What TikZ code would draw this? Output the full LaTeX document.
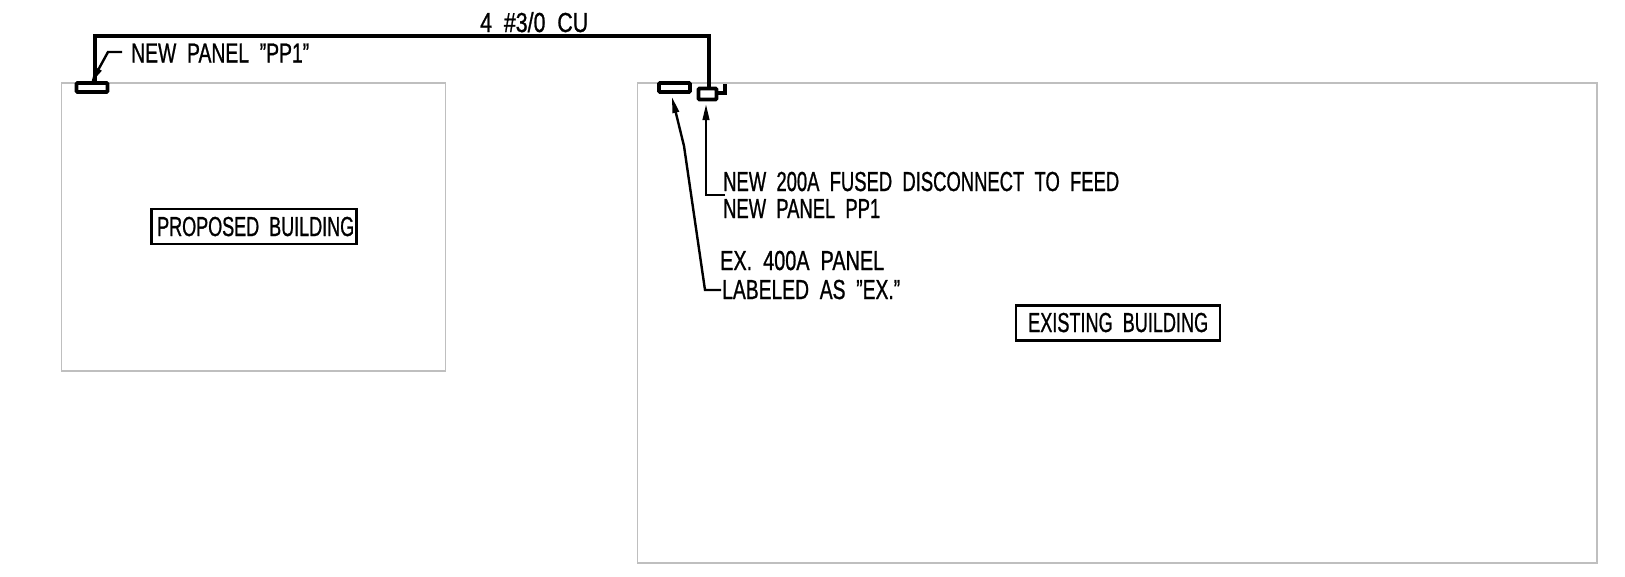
\documentclass[tikz,border=0pt]{standalone}
\usepackage{graphicx}
\usepackage{fontspec}
\setmainfont[FakeBold=1.1,WordSpace=2]{Liberation Sans}
\usetikzlibrary{arrows.meta}
\newcommand{\fitw}[2]{\resizebox{#1pt}{\height}{#2}}
\tikzset{
  x=1pt,y=-1pt,
  bldg/.style={draw=black!25,line width=1.3pt,fill=none},
  panelbox/.style={draw=black,line width=3.6pt,rounded corners=1pt,fill=white,inner sep=0pt},
  wire/.style={draw=black,line width=4pt,line join=miter},
  leaderline/.style={draw=black,line width=2.4pt,-{Triangle[length=16pt,width=6.5pt]}},
  lbl/.style={anchor=base west,inner sep=0pt,font=\fontsize{27.5}{27.5}\selectfont},
  titlebox/.style={draw=black,line width=2.6pt,fill=none,inner sep=0pt}
}
\begin{document}
\begin{tikzpicture}
\useasboundingbox (0,0) rectangle (1625,576);
% buildings
\draw[bldg] (61.5,83) rectangle (445.5,371);
\draw[bldg] (637.5,83) rectangle (1597,563);
% title boxes
\node[titlebox] (propbox) at (254,226.5) {\rule{0pt}{35pt}\rule{205pt}{0pt}};
\node[titlebox] (exbox) at (1118,323) {\rule{0pt}{35pt}\rule{204pt}{0pt}};
\node[lbl] (proptxt) at (157,236) {\fitw{197}{PROPOSED BUILDING}};
\node[lbl] (extxt) at (1028,332) {\fitw{180}{EXISTING BUILDING}};
% panels
\node[panelbox] (pp1) at (92,87.5) {\rule{0pt}{9pt}\rule{31pt}{0pt}};
\node[panelbox] (expanel) at (674.5,87.5) {\rule{0pt}{9pt}\rule{31pt}{0pt}};
\node[panelbox] (disc) at (707.5,94) {\rule{0pt}{11pt}\rule{18pt}{0pt}};
% handle
\coordinate (h0) at (disc.east|-0,93);
\coordinate (h1) at (725,93);
\coordinate (h2) at (725,84);
\draw[draw=black,line width=3.4pt] (h0) -- (h1) -- (h2);
% wire
\coordinate (wa) at (95,36);
\coordinate (wb) at (708.5,36);
\draw[wire] (pp1.north-|wa) -- (wa) -- (wb) -- (disc.north-|wb);
% labels
\node[lbl] (newpp) at (131,62.5) {\fitw{178}{NEW PANEL "PP1"}};
\node[lbl] (wiretxt) at (480,32) {\fitw{108}{4 \#3/0 CU}};
\node[lbl] (disctxt) at (723,191) {\fitw{396}{NEW 200A FUSED DISCONNECT TO FEED}};
\node[lbl] (disctxtb) at (723,218) {\fitw{157}{NEW PANEL PP1}};
\node[lbl] (extxta) at (720,270) {\fitw{164}{EX. 400A PANEL}};
\node[lbl] (extxtb) at (722,299) {\fitw{178}{LABELED AS "EX."}};
% leaders
\coordinate (t1) at (91,83);
\coordinate (l1a) at (122,52);
\coordinate (l1b) at (108,52);
\draw[leaderline] (l1a) -- (l1b) -- (t1);
\coordinate (t2) at (706,104);
\coordinate (l2a) at (725,195);
\coordinate (l2b) at (706,195);
\draw[leaderline] (l2a) -- (l2b) -- (t2);
\coordinate (t3) at (672,97);
\coordinate (l3a) at (721,290);
\coordinate (l3b) at (705,290);
\coordinate (l3c) at (684,146);
\draw[leaderline] (l3a) -- (l3b) -- (l3c) -- (t3);
\end{tikzpicture}
\end{document}
